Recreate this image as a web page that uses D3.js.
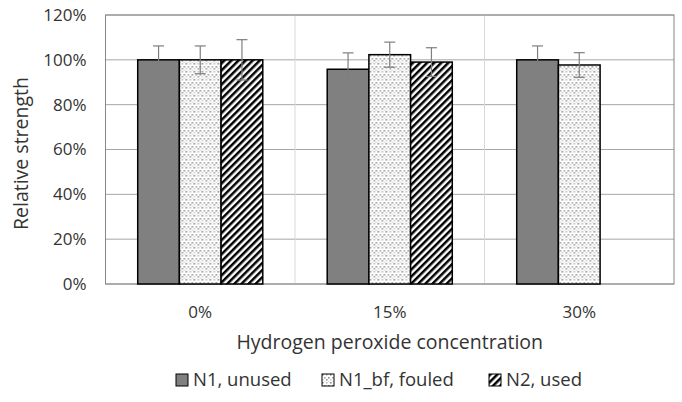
<!DOCTYPE html>
<html>
<head>
  <title>Relative strength vs hydrogen peroxide concentration</title>
  <style>
    body { margin: 0; background: #fff; overflow: hidden; }
    svg { display: block; }
    text { font-family: 'Open Sans', sans-serif; fill: #333; }
  </style>
</head>
<body>
  <div id="chart-container"></div>
  <script src="https://d3js.org/d3.v7.min.js"></script>
  <script>
    const categories = ['0%', '15%', '30%'];
    const seriesNames = ['N1, unused', 'N1_bf, fouled', 'N2, used'];
    // values in percent, null = no bar
    const n1Unused = [100, 95.8, 100];
    const n1BfFouled = [100, 102.3, 97.7];
    const n2Used = [100, 99.0, null];
    const n1UnusedErr = [6.2, 7.3, 6.2];
    const n1BfFouledErr = [6.2, 5.6, 5.5];
    const n2UsedErr = [9.0, 6.4, null];
    const yTicks = [0, 20, 40, 60, 80, 100, 120];

    const seriesValues = [n1Unused, n1BfFouled, n2Used];
    const seriesErrors = [n1UnusedErr, n1BfFouledErr, n2UsedErr];

    const width = 682;
    const height = 402;
    const margin = { top: 15, right: 8, bottom: 118, left: 105.5 };
    const innerWidth = width - margin.left - margin.right;
    const innerHeight = height - margin.top - margin.bottom;

    const svg = d3.select('#chart-container')
      .append('svg')
      .attr('width', width)
      .attr('height', height);

    const defs = svg.append('defs');

    const dots = defs.append('pattern')
      .attr('id', 'dots')
      .attr('patternUnits', 'userSpaceOnUse')
      .attr('width', 8)
      .attr('height', 8);
    dots.append('rect').attr('width', 8).attr('height', 8).attr('fill', '#fff');
    [[0, 0, '#8c8c8c'], [4, 0, '#bdbdbd'], [2, 3, '#a8a8a8'], [6, 3, '#8f8f8f'],
     [0, 5, '#cfcfcf'], [4, 5, '#9a9a9a'], [2, 7, '#e0e0e0'], [6, 7, '#d4d4d4']].forEach(([x, y, c]) => {
      dots.append('rect').attr('x', x).attr('y', y).attr('width', 1.6).attr('height', 1.6).attr('fill', c);
    });

    const stripes = defs.append('pattern')
      .attr('id', 'stripes')
      .attr('patternUnits', 'userSpaceOnUse')
      .attr('width', 5)
      .attr('height', 5)
      .attr('patternTransform', 'rotate(45)');
    stripes.append('rect').attr('width', 5).attr('height', 5).attr('fill', '#fff');
    stripes.append('rect').attr('width', 2.5).attr('height', 5).attr('fill', '#000');

    const fills = ['#808080', 'url(#dots)', 'url(#stripes)'];

    const g = svg.append('g')
      .attr('transform', `translate(${margin.left},${margin.top})`);

    const x0 = d3.scaleBand().domain(categories).range([0, innerWidth]);
    const gapRatio = 0.34;
    const x1 = d3.scaleBand()
      .domain(seriesNames)
      .range([x0.bandwidth() * gapRatio / 2, x0.bandwidth() * (1 - gapRatio / 2)]);
    const y = d3.scaleLinear().domain([0, 120]).range([innerHeight, 0]);

    // horizontal gridlines
    g.append('g')
      .selectAll('line')
      .data(yTicks)
      .join('line')
      .attr('x1', 0)
      .attr('x2', innerWidth)
      .attr('y1', d => y(d))
      .attr('y2', d => y(d))
      .attr('stroke', '#a6a6a6')
      .attr('stroke-width', 1);

    // category separators
    g.append('g')
      .selectAll('line')
      .data(categories.slice(1))
      .join('line')
      .attr('x1', d => x0(d))
      .attr('x2', d => x0(d))
      .attr('y1', 0)
      .attr('y2', innerHeight)
      .attr('stroke', '#d9d9d9')
      .attr('stroke-width', 1);

    // plot border
    g.append('rect')
      .attr('width', innerWidth)
      .attr('height', innerHeight)
      .attr('fill', 'none')
      .attr('stroke', '#868686')
      .attr('stroke-width', 1);

    const barData = [];
    categories.forEach((c, ci) => {
      seriesNames.forEach((s, si) => {
        const v = seriesValues[si][ci];
        if (v !== null) barData.push({ cat: c, series: s, si, value: v, err: seriesErrors[si][ci] });
      });
    });

    g.append('g')
      .selectAll('rect')
      .data(barData)
      .join('rect')
      .attr('x', d => x0(d.cat) + x1(d.series))
      .attr('y', d => y(d.value))
      .attr('width', x1.bandwidth())
      .attr('height', d => innerHeight - y(d.value))
      .attr('fill', d => fills[d.si])
      .attr('stroke', '#000')
      .attr('stroke-width', 1.5);

    // error bars
    const eb = g.append('g')
      .selectAll('g')
      .data(barData)
      .join('g')
      .attr('stroke', '#7f7f7f')
      .attr('stroke-width', 1.2);
    const cx = d => x0(d.cat) + x1(d.series) + x1.bandwidth() / 2;
    eb.append('line')
      .attr('x1', cx).attr('x2', cx)
      .attr('y1', d => y(d.value + d.err))
      .attr('y2', d => y(d.value - d.err));
    eb.append('line')
      .attr('x1', d => cx(d) - 5.5).attr('x2', d => cx(d) + 5.5)
      .attr('y1', d => y(d.value + d.err)).attr('y2', d => y(d.value + d.err));
    eb.append('line')
      .attr('x1', d => cx(d) - 5.5).attr('x2', d => cx(d) + 5.5)
      .attr('y1', d => y(d.value - d.err)).attr('y2', d => y(d.value - d.err));

    // y tick labels
    g.append('g')
      .selectAll('text')
      .data(yTicks)
      .join('text')
      .attr('x', -19)
      .attr('y', d => y(d))
      .attr('dy', '0.35em')
      .attr('text-anchor', 'end')
      .attr('font-size', 17)
      .text(d => d + '%');

    // x tick labels
    g.append('g')
      .selectAll('text')
      .data(categories)
      .join('text')
      .attr('x', d => x0(d) + x0.bandwidth() / 2)
      .attr('y', innerHeight + 34)
      .attr('text-anchor', 'middle')
      .attr('font-size', 17)
      .text(d => d);

    g.append('text')
      .attr('x', innerWidth / 2)
      .attr('y', innerHeight + 65)
      .attr('text-anchor', 'middle')
      .attr('font-size', 19.5)
      .text('Hydrogen peroxide concentration');

    g.append('text')
      .attr('transform', `translate(${-78},${innerHeight / 2 + 4}) rotate(-90)`)
      .attr('text-anchor', 'middle')
      .attr('font-size', 19.5)
      .text('Relative strength');

    // legend
    const legendX = [176, 322, 489];
    const legend = svg.append('g')
      .selectAll('g')
      .data(seriesNames)
      .join('g')
      .attr('transform', (d, i) => `translate(${legendX[i]},${374})`);
    legend.append('rect')
      .attr('width', 12)
      .attr('height', 12)
      .attr('fill', (d, i) => fills[i])
      .attr('stroke', '#000')
      .attr('stroke-width', 1);
    legend.append('text')
      .attr('x', 17)
      .attr('y', 6)
      .attr('dy', '0.35em')
      .attr('font-size', 18.5)
      .text(d => d);
  </script>
</body>
</html>
